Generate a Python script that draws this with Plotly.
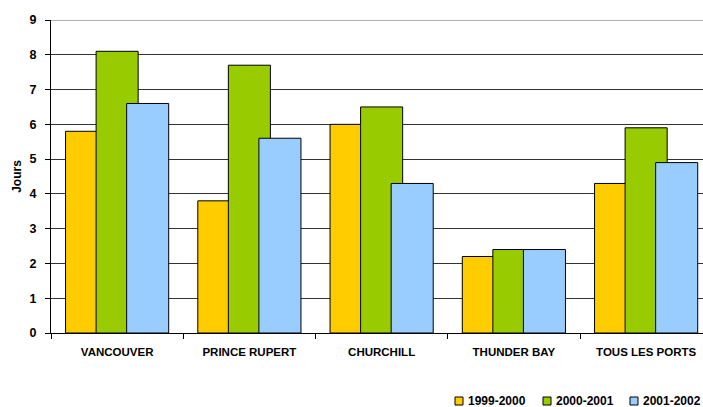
import plotly.graph_objects as go

categories = ["VANCOUVER", "PRINCE RUPERT", "CHURCHILL", "THUNDER BAY", "TOUS LES PORTS"]
series_names = ["1999-2000", "2000-2001", "2001-2002"]
v_1999 = [5.8, 3.8, 6.0, 2.2, 4.3]
v_2000 = [8.1, 7.7, 6.5, 2.4, 5.9]
v_2001 = [6.6, 5.6, 4.3, 2.4, 4.9]
colors = ["#FFCC00", "#99CC00", "#99CCFF"]

W, H = 703, 407
ML, MR, MT, MB = 51, 0, 20, 74
PW, PH = W - ML - MR, H - MT - MB

def px_x(p):
    return (p - ML) / PW

def px_y(p):
    return (H - MB - p) / PH

bar_w = 0.318
step = 0.231
fig = go.Figure()
for i, (name, vals, col) in enumerate(zip(series_names, [v_1999, v_2000, v_2001], colors)):
    center = (i - 1) * step
    fig.add_trace(go.Bar(
        x=categories, y=vals, name=name,
        width=bar_w, offset=center - bar_w / 2,
        marker=dict(color=col, line=dict(color="#000000", width=1)),
        showlegend=False,
    ))

ff = "Liberation Sans, Arial, sans-serif"

# custom legend (compact, Excel-like)
legend_x = [455, 543, 630]
for name, col, lx in zip(series_names, colors, legend_x):
    fig.add_shape(type="rect", xref="paper", yref="paper",
                  x0=px_x(lx), x1=px_x(lx + 8), y0=px_y(405), y1=px_y(397),
                  fillcolor=col, line=dict(color="black", width=1))
    fig.add_annotation(xref="paper", yref="paper", x=px_x(lx + 11), y=px_y(401),
                       xanchor="left", yanchor="middle", showarrow=False,
                       text=name, font=dict(size=12, family=ff, weight="bold", color="black"))

# lighter top border of plot area
fig.add_shape(type="line", xref="paper", yref="y", x0=0, x1=1, y0=9, y1=9,
              line=dict(color="#999999", width=1.5))

fig.update_layout(
    barmode="overlay",
    width=W, height=H,
    margin=dict(l=ML, r=MR, t=MT, b=MB, autoexpand=False),
    paper_bgcolor="white", plot_bgcolor="white",
    font=dict(family=ff, size=11, color="black"),
    showlegend=False,
    xaxis=dict(
        range=[-0.5, 4.43], automargin=False,
        showline=True, linecolor="black", linewidth=1,
        ticks="outside", tickson="boundaries", ticklen=5, tickcolor="black",
        tickfont=dict(size=11.5, family=ff, weight="bold"),
        ticklabelstandoff=8,
        showgrid=False,
    ),
    yaxis=dict(
        range=[0, 9], dtick=1, automargin=False,
        showline=True, linecolor="black", linewidth=1,
        ticks="outside", ticklen=5, tickcolor="black",
        tickfont=dict(size=12.5, family=ff, weight="bold"),
        ticklabelstandoff=6,
        showgrid=True, gridcolor="#333333", gridwidth=1,
        title=dict(text="Jours", font=dict(size=12, family=ff, weight="bold"), standoff=5),
        zeroline=False,
    ),
)
fig.write_html("out.html", config={"displayModeBar": False},
               post_script="document.body.style.margin='0px';")
